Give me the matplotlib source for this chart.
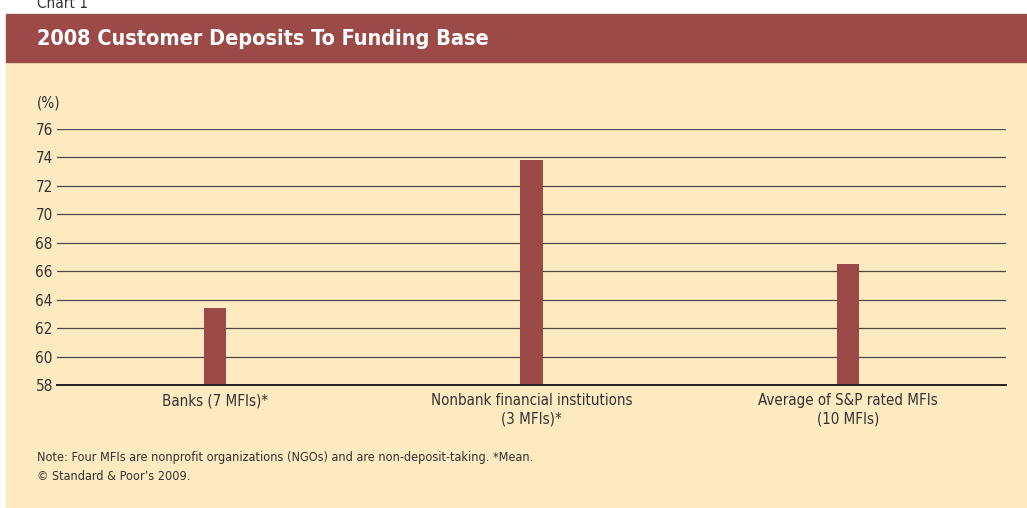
import matplotlib.pyplot as plt
from matplotlib.patches import Rectangle
from matplotlib import font_manager

# Datos
categorias = ['Banks (7 MFIs)*', 'Nonbank financial institutions\n(3 MFIs)*',
              'Average of S&P rated MFIs\n(10 MFIs)']
valores = [63.4, 73.8, 66.5]
ticks_y = [58, 60, 62, 64, 66, 68, 70, 72, 74, 76]

rojo = '#9C4A48'
crema = '#FDEAC0'
gris = '#333333'

# Fuente estrecha si esta disponible
nombres = {f.name for f in font_manager.fontManager.ttflist}
if 'Liberation Sans Narrow' in nombres:
    plt.rcParams['font.family'] = ['Liberation Sans Narrow', 'DejaVu Sans']
else:
    plt.rcParams['font.family'] = ['DejaVu Sans']
    plt.rcParams['font.stretch'] = 'condensed'

W, H = 1027, 508
fig = plt.figure(figsize=(W / 100, H / 100), dpi=100)

def fx(px):
    return px / W

def fy(py):
    return 1 - py / H

# Fondo crema y banda del titulo
fig.patches.append(Rectangle((fx(6), 0), 1 - fx(6), fy(62), transform=fig.transFigure,
                             color=crema, zorder=-5))
fig.patches.append(Rectangle((fx(6), fy(62)), 1 - fx(6), fy(14) - fy(62),
                             transform=fig.transFigure, color=rojo, zorder=-5))

fig.text(fx(37), fy(3), 'Chart 1', fontsize=11, color=gris, va='center')
fig.text(fx(37), fy(39), '2008 Customer Deposits To Funding Base', fontsize=15.5,
         fontweight='bold', color='white', va='center')
fig.text(fx(37), fy(103), '(%)', fontsize=11, color=gris, va='center')

# Ejes
ax = fig.add_axes([fx(57), fy(385), fx(1006) - fx(57), fy(129) - fy(385)], zorder=2)
ax.set_facecolor('none')
x = range(len(categorias))
ax.bar(x, valores, width=0.07, color=rojo, zorder=3)
ax.set_xlim(-0.5, 2.5)
ax.set_ylim(58, 76)
ax.set_yticks(ticks_y)
ax.set_xticks(list(x))
ax.set_xticklabels(categorias, fontsize=10.8, color=gris, linespacing=1.3)
ax.tick_params(axis='x', length=0, pad=6)
ax.tick_params(axis='y', length=0, pad=3, labelsize=11, labelcolor=gris)
ax.grid(axis='y', color='#4a4a4a', linewidth=0.9, zorder=1)
for s in ['top', 'right', 'left']:
    ax.spines[s].set_visible(False)
ax.spines['bottom'].set_color('#222222')
ax.spines['bottom'].set_linewidth(1.4)
ax.spines['bottom'].set_zorder(4)

# Notas
fig.text(fx(37), fy(458), 'Note: Four MFIs are nonprofit organizations (NGOs) and are '
         'non-deposit-taking. *Mean.', fontsize=9.1, color=gris, va='center')
fig.text(fx(37), fy(476), '\u00a9 Standard & Poor\u2019s 2009.', fontsize=9.1,
         color=gris, va='center')

plt.savefig('out.png', dpi=100, facecolor='white')
